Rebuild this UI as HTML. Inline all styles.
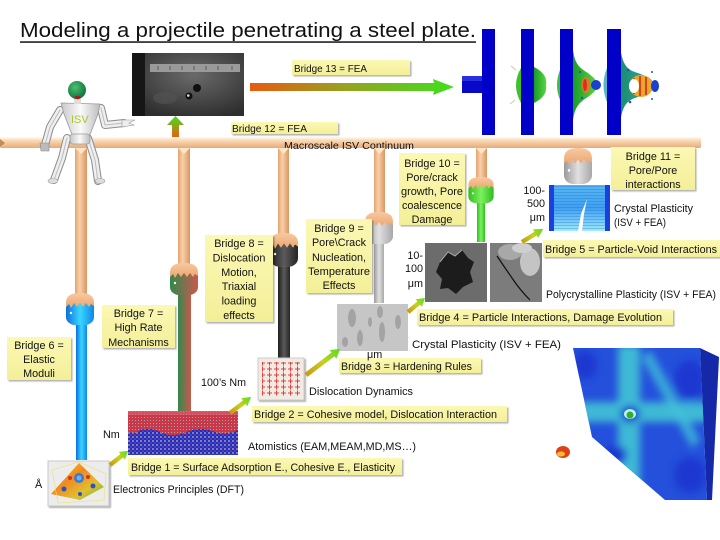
<!DOCTYPE html>
<html><head><meta charset="utf-8"><style>
html,body{margin:0;padding:0;background:#fff;}
svg{display:block;}
text{font-family:"Liberation Sans",sans-serif;fill:#111;}
</style></head><body>
<svg width="720" height="540" viewBox="0 0 720 540" xmlns="http://www.w3.org/2000/svg">
<defs>
 <filter id="sh" x="-10%" y="-20%" width="130%" height="160%"><feDropShadow dx="1.5" dy="1.5" stdDeviation="0.8" flood-color="#000" flood-opacity="0.3"/></filter>
 <filter id="bl2"><feGaussianBlur stdDeviation="4"/></filter>
 <linearGradient id="beam" x1="0" y1="0" x2="0" y2="1"><stop offset="0" stop-color="#fff2e0"/><stop offset="0.35" stop-color="#f9d7b2"/><stop offset="1" stop-color="#e6aa78"/></linearGradient>
 <linearGradient id="post" x1="0" y1="0" x2="1" y2="0"><stop offset="0" stop-color="#e2a470"/><stop offset="0.4" stop-color="#f8d0a8"/><stop offset="1" stop-color="#d99662"/></linearGradient>
 <linearGradient id="peach" x1="0" y1="0" x2="0" y2="1"><stop offset="0" stop-color="#f7c9a0"/><stop offset="0.4" stop-color="#eeaa75"/><stop offset="1" stop-color="#e39558"/></linearGradient>
 <linearGradient id="cBlue" x1="0" y1="0" x2="1" y2="0"><stop offset="0" stop-color="#0a6fe0"/><stop offset="0.5" stop-color="#3ad6ff"/><stop offset="1" stop-color="#0f86e8"/></linearGradient>
 <linearGradient id="cRG" x1="0" y1="0" x2="1" y2="0"><stop offset="0" stop-color="#2f8a48"/><stop offset="0.5" stop-color="#7f7050"/><stop offset="1" stop-color="#c95a4a"/></linearGradient>
 <linearGradient id="cDark" x1="0" y1="0" x2="1" y2="0"><stop offset="0" stop-color="#1e1e1e"/><stop offset="0.5" stop-color="#5a5a5a"/><stop offset="1" stop-color="#262626"/></linearGradient>
 <linearGradient id="cGray" x1="0" y1="0" x2="1" y2="0"><stop offset="0" stop-color="#9a9a9a"/><stop offset="0.5" stop-color="#e0e0e0"/><stop offset="1" stop-color="#a8a8a8"/></linearGradient>
 <linearGradient id="cGreen" x1="0" y1="0" x2="1" y2="0"><stop offset="0" stop-color="#2cbf1e"/><stop offset="0.5" stop-color="#7ef060"/><stop offset="1" stop-color="#2cbf1e"/></linearGradient>
 <linearGradient id="arrH" x1="250" y1="0" x2="454" y2="0" gradientUnits="userSpaceOnUse"><stop offset="0" stop-color="#e85a10"/><stop offset="0.45" stop-color="#98a020"/><stop offset="1" stop-color="#3ee01c"/></linearGradient>
 <linearGradient id="arrU" x1="0" y1="0" x2="0" y2="1"><stop offset="0" stop-color="#40e020"/><stop offset="1" stop-color="#e86010"/></linearGradient>
 <linearGradient id="arrD" x1="0" y1="0" x2="1" y2="0"><stop offset="0" stop-color="#c89a10"/><stop offset="0.5" stop-color="#c8d020"/><stop offset="1" stop-color="#50e020"/></linearGradient>
 <linearGradient id="yb" x1="0" y1="0" x2="0" y2="1"><stop offset="0" stop-color="#fbf8b4"/><stop offset="1" stop-color="#f3ef98"/></linearGradient>
 <radialGradient id="photo" cx="0.55" cy="0.35" r="0.7"><stop offset="0" stop-color="#6a6a6a"/><stop offset="1" stop-color="#2e2e2e"/></radialGradient>
 <radialGradient id="head" cx="0.4" cy="0.35" r="0.7"><stop offset="0" stop-color="#4ac070"/><stop offset="1" stop-color="#0c6e3a"/></radialGradient>
 <linearGradient id="silver" x1="0" y1="0" x2="1" y2="0"><stop offset="0" stop-color="#c8c8c8"/><stop offset="0.5" stop-color="#fafafa"/><stop offset="1" stop-color="#bdbdbd"/></linearGradient>
 <linearGradient id="feaG" x1="0" y1="0" x2="1" y2="0"><stop offset="0" stop-color="#1a9a28"/><stop offset="1" stop-color="#58d840"/></linearGradient>
 <linearGradient id="feaT" x1="0" y1="0" x2="1" y2="0"><stop offset="0" stop-color="#1c8a70"/><stop offset="1" stop-color="#30b0a0"/></linearGradient>
 <linearGradient id="dft" x1="0" y1="0" x2="1" y2="1"><stop offset="0" stop-color="#f0d020"/><stop offset="0.4" stop-color="#f08a20"/><stop offset="0.7" stop-color="#e0c030"/><stop offset="1" stop-color="#50b840"/></linearGradient>
 <linearGradient id="cryst" x1="0" y1="0" x2="0" y2="1"><stop offset="0" stop-color="#58b8f0"/><stop offset="0.5" stop-color="#40a0f0"/><stop offset="1" stop-color="#a0ecfa"/></linearGradient>
 <pattern id="grid" width="3" height="3" patternUnits="userSpaceOnUse"><rect width="3" height="3" fill="#c83848"/><rect width="1" height="1" fill="#b0a0a8"/></pattern>
 <pattern id="dots" width="4" height="4" patternUnits="userSpaceOnUse"><rect width="4" height="4" fill="#2a2ab8"/><circle cx="1" cy="1" r="1" fill="#9a9ab8"/><circle cx="3" cy="3" r="0.8" fill="#6060c8"/></pattern>
 <pattern id="dd" width="7" height="6" patternUnits="userSpaceOnUse"><path d="M1,3 L6,3 M3.5,0.5 L3.5,5.5" stroke="#e04040" stroke-width="1"/></pattern>
 <pattern id="lines" width="4" height="3" patternUnits="userSpaceOnUse"><rect width="4" height="1" fill="#2070e0" opacity="0.35"/></pattern>
 <clipPath id="plateClip"><polygon points="573,348 700,348 707,500 665,500 592,437"/></clipPath>
</defs>

<!-- Title -->
<text x="20" y="37" font-size="20" textLength="456" lengthAdjust="spacingAndGlyphs">Modeling a projectile penetrating a steel plate.</text>
<rect x="20" y="41.3" width="456" height="1.5" fill="#111"/>

<!-- Photo -->
<rect x="132" y="53" width="112" height="63" fill="url(#photo)"/>
<rect x="132" y="53" width="13" height="63" fill="#161616"/>
<rect x="150" y="64" width="90" height="8" fill="#9a9a9a"/>
<g stroke="#444" stroke-width="0.7">
<line x1="158" y1="66" x2="158" y2="70"/><line x1="170" y1="66" x2="170" y2="70"/><line x1="182" y1="66" x2="182" y2="70"/><line x1="194" y1="66" x2="194" y2="70"/><line x1="206" y1="66" x2="206" y2="70"/><line x1="218" y1="66" x2="218" y2="70"/><line x1="232" y1="66" x2="232" y2="70"/>
</g>
<ellipse cx="165" cy="98" rx="12" ry="6" fill="#555" opacity="0.6"/>
<circle cx="197" cy="88" r="4" fill="#101010"/>
<circle cx="189" cy="96" r="3.5" fill="#101010"/><circle cx="188.3" cy="95.5" r="1.3" fill="#ddd"/>

<!-- Horizontal arrow -->
<polygon points="250,83 434,83 433,79 454,87 433,95 434,91 250,91" fill="url(#arrH)"/>
<!-- Up arrow -->
<polygon points="175.5,116 184,125 179,125 179,137 172,137 172,125 167,125" fill="url(#arrU)"/>

<!-- Bridge 13 / 12 -->
<rect x="292" y="60" width="118" height="15" fill="url(#yb)" filter="url(#sh)"/>
<text x="294" y="72" font-size="10.5" textLength="73" lengthAdjust="spacingAndGlyphs">Bridge 13 = FEA</text>
<rect x="231" y="122" width="107" height="12" fill="url(#yb)" filter="url(#sh)"/>
<text x="232" y="132" font-size="10.5" textLength="75" lengthAdjust="spacingAndGlyphs">Bridge 12 = FEA</text>

<!-- FEA plates -->
<rect x="462" y="76" width="20" height="17" fill="#0808c8"/>
<rect x="462" y="76" width="20" height="5" fill="#2a30e0"/>
<rect x="482" y="29" width="13" height="106" fill="#0000c8"/>
<path d="M521,68 Q511,85 521,103 Z" fill="#40c030"/>
<path d="M516,70 L511,66 M515,100 L510,104" stroke="#d8c890" stroke-width="1"/>
<path d="M534,67 Q548,74 546,85 Q548,96 534,103 Z" fill="url(#feaG)"/>
<rect x="521" y="29" width="13" height="106" fill="#0000c8"/>
<path d="M560,70 Q554,85 560,100 Z" fill="#40c030"/>
<path d="M573,50 C575,65 580,68 588,73 L594,78 Q600,85 594,92 L588,97 C580,102 575,106 573,120 Z" fill="url(#feaG)"/>
<ellipse cx="586" cy="85" rx="4.5" ry="8" fill="#e07828"/>
<ellipse cx="585" cy="85" rx="2" ry="6" fill="#d83020"/>
<circle cx="596" cy="85" r="5" fill="#1a40d0"/>
<circle cx="580" cy="72" r="1.2" fill="#2050e0"/><circle cx="582" cy="98" r="1.2" fill="#2050e0"/>
<rect x="560" y="29" width="13" height="106" fill="#0000c8"/>
<path d="M607,68 Q600,85 607,102 Z" fill="#30a0c0" opacity="0.8"/>
<path d="M620,45 C622,65 627,70 638,73 L648,77 Q660,85 648,94 L638,97 C627,100 622,105 620,125 Z" fill="url(#feaT)"/>
<ellipse cx="641" cy="86" rx="12" ry="11" fill="#e8a828"/>
<path d="M634,78 L634,94 M640,76 L640,96 M646,77 L646,95" stroke="#d84020" stroke-width="2"/>
<ellipse cx="634" cy="86" rx="5" ry="7" fill="#fff"/>
<ellipse cx="655" cy="86" rx="4" ry="6" fill="#1a40d0"/>
<circle cx="628" cy="70" r="1.3" fill="#2050e0"/><circle cx="630" cy="102" r="1.3" fill="#2050e0"/><circle cx="652" cy="72" r="1" fill="#2050e0"/><circle cx="652" cy="99" r="1" fill="#2050e0"/>
<rect x="607" y="29" width="14" height="106" fill="#0000c8"/>

<!-- Beam -->
<rect x="0" y="137" width="701" height="11" rx="1.5" fill="url(#beam)"/>
<rect x="0" y="137" width="701" height="1.5" fill="#fff4e6"/>
<polygon points="0,139 5,143 0,147" fill="#c48a58"/>
<text x="284" y="149" font-size="10.5" textLength="130" lengthAdjust="spacingAndGlyphs">Macroscale ISV Continuum</text>

<!-- Posts -->
<rect x="75" y="148" width="12" height="147" fill="url(#post)"/>
<rect x="178" y="148" width="12" height="117" fill="url(#post)"/>
<rect x="278" y="148" width="11" height="87" fill="url(#post)"/>
<rect x="374" y="148" width="11" height="66" fill="url(#post)"/>
<rect x="476" y="148" width="11" height="31" fill="url(#post)"/>
<g fill="#fde6c8">
<polygon points="75,148 87,148 81,154"/><polygon points="178,148 190,148 184,154"/><polygon points="278,148 289,148 283.5,154"/><polygon points="374,148 385,148 379.5,154"/><polygon points="476,148 487,148 481.5,154"/>
</g>

<!-- Colored columns -->
<rect x="76" y="320" width="11" height="140" fill="url(#cBlue)"/>
<rect x="178" y="288" width="13" height="124" fill="url(#cRG)"/>
<rect x="278" y="262" width="12" height="96" fill="url(#cDark)"/>
<rect x="374" y="240" width="10" height="63" fill="url(#cGray)"/>
<rect x="477" y="200" width="8" height="42" fill="url(#cGreen)"/>

<!-- Hands -->
<g transform="translate(80,293)">
 <path d="M-14,10 C-14,2 -8,0 0,0 C8,0 14,2 14,10 L14,24 C14,29 9,32 5,32 L-5,32 C-9,32 -14,29 -14,24 Z" fill="url(#peach)"/>
 <path d="M-14,14 L-11,11 L-9,15 L-6,10 L-3,14 L0,10 L3,14 L6,10 L9,14 L11,11 L14,13 L14,24 C14,29 9,32 5,32 L-5,32 C-9,32 -14,29 -14,24 Z" fill="url(#cBlue)"/>
 <circle cx="-9" cy="20" r="1.2" fill="#fff"/>
</g>
<g transform="translate(184,263)">
 <path d="M-14,10 C-14,2 -8,0 0,0 C8,0 14,2 14,10 L14,24 C14,29 9,32 5,32 L-5,32 C-9,32 -14,29 -14,24 Z" fill="url(#peach)"/>
 <path d="M-14,14 L-11,11 L-9,15 L-6,10 L-3,14 L0,10 L3,14 L6,10 L9,14 L11,11 L14,13 L14,24 C14,29 9,32 5,32 L-5,32 C-9,32 -14,29 -14,24 Z" fill="url(#cRG)"/>
 <circle cx="-9" cy="20" r="1.2" fill="#fff"/>
</g>
<g transform="translate(284,233) scale(1,1.05)">
 <path d="M-14,10 C-14,2 -8,0 0,0 C8,0 14,2 14,10 L14,24 C14,29 9,32 5,32 L-5,32 C-9,32 -14,29 -14,24 Z" fill="url(#peach)"/>
 <path d="M-14,14 L-11,11 L-9,15 L-6,10 L-3,14 L0,10 L3,14 L6,10 L9,14 L11,11 L14,13 L14,24 C14,29 9,32 5,32 L-5,32 C-9,32 -14,29 -14,24 Z" fill="url(#cDark)"/>
 <circle cx="-9" cy="20" r="1.2" fill="#fff"/>
</g>
<g transform="translate(379,212)">
 <path d="M-14,10 C-14,2 -8,0 0,0 C8,0 14,2 14,10 L14,24 C14,29 9,32 5,32 L-5,32 C-9,32 -14,29 -14,24 Z" fill="url(#peach)"/>
 <path d="M-14,14 L-11,11 L-9,15 L-6,10 L-3,14 L0,10 L3,14 L6,10 L9,14 L11,11 L14,13 L14,24 C14,29 9,32 5,32 L-5,32 C-9,32 -14,29 -14,24 Z" fill="url(#cGray)"/>
 <circle cx="-9" cy="20" r="1.2" fill="#fff"/>
</g>
<g transform="translate(481,177) scale(0.9,0.82)">
 <path d="M-14,10 C-14,2 -8,0 0,0 C8,0 14,2 14,10 L14,24 C14,29 9,32 5,32 L-5,32 C-9,32 -14,29 -14,24 Z" fill="url(#peach)"/>
 <path d="M-14,14 L-11,11 L-9,15 L-6,10 L-3,14 L0,10 L3,14 L6,10 L9,14 L11,11 L14,13 L14,24 C14,29 9,32 5,32 L-5,32 C-9,32 -14,29 -14,24 Z" fill="url(#cGreen)"/>
 <circle cx="-9" cy="20" r="1.2" fill="#fff"/>
</g>
<g transform="translate(578,148) scale(1,1.12)">
 <path d="M-14,10 C-14,2 -8,0 0,0 C8,0 14,2 14,10 L14,24 C14,29 9,32 5,32 L-5,32 C-9,32 -14,29 -14,24 Z" fill="url(#peach)"/>
 <path d="M-14,14 L-11,11 L-9,15 L-6,10 L-3,14 L0,10 L3,14 L6,10 L9,14 L11,11 L14,13 L14,24 C14,29 9,32 5,32 L-5,32 C-9,32 -14,29 -14,24 Z" fill="url(#cGray)"/>
 <circle cx="-9" cy="20" r="1.2" fill="#fff"/>
</g>

<!-- Robot -->
<g stroke-linecap="round" stroke-linejoin="round" fill="none">
 <g stroke="#8c8c8c" stroke-width="8">
  <path d="M67,138 L62,158 L54,180"/><path d="M88,138 L95,160 L98,181"/>
  <path d="M60,110 L50,127 L45,145"/><path d="M101,108 L105,125 L124,123"/>
 </g>
 <g stroke="#efefef" stroke-width="6">
  <path d="M67,138 L62,158 L54,180"/><path d="M88,138 L95,160 L98,181"/>
  <path d="M60,110 L50,127 L45,145"/><path d="M101,108 L105,125 L124,123"/>
 </g>
 <g stroke="#bbb" stroke-width="1">
  <path d="M67,138 L62,158 L54,180"/><path d="M88,138 L95,160 L98,181"/>
  <path d="M60,110 L50,127 L45,145"/><path d="M101,108 L105,125 L124,123"/>
 </g>
</g>
<path d="M122,120 L135,120 L129,123 L134,125 L122,127 Z" fill="#eee" stroke="#999" stroke-width="0.6"/>
<path d="M40,143 L49,143 L49,151 L41,151 Z" fill="#bbb" stroke="#888" stroke-width="0.6"/>
<ellipse cx="53" cy="181" rx="5" ry="2.5" fill="#ddd" stroke="#999" stroke-width="0.6"/>
<ellipse cx="100" cy="181" rx="5" ry="2.5" fill="#ddd" stroke="#999" stroke-width="0.6"/>
<path d="M61,103 L100,104 L98,114 L89,137 L73,137 L64,114 Z" fill="url(#silver)" stroke="#9a9a9a" stroke-width="0.8"/>
<rect x="70" y="134" width="20" height="10" rx="3" fill="url(#silver)" stroke="#9a9a9a" stroke-width="0.8"/>
<rect x="74" y="98" width="7" height="6" fill="#ddd"/>
<circle cx="77" cy="90" r="9" fill="url(#head)"/>
<ellipse cx="77.5" cy="97.5" rx="3" ry="1.8" fill="#b01818"/>
<text x="71" y="123" font-size="11" style="fill:#a8c830">ISV</text>

<!-- Bridge labels multi-line -->
<g font-size="10.8" text-anchor="middle">
 <rect x="7" y="337" width="64" height="43" fill="url(#yb)" filter="url(#sh)"/>
 <text x="39" y="349">Bridge 6 =</text><text x="39" y="363">Elastic</text><text x="39" y="377">Moduli</text>

 <rect x="102" y="305" width="73" height="43" fill="url(#yb)" filter="url(#sh)"/>
 <text x="138.5" y="317">Bridge 7 =</text><text x="138.5" y="331">High Rate</text><text x="138.5" y="346">Mechanisms</text>

 <rect x="205" y="235" width="68" height="87" fill="url(#yb)" filter="url(#sh)"/>
 <text x="239" y="247">Bridge 8 =</text><text x="239" y="261.5">Dislocation</text><text x="239" y="276">Motion,</text><text x="239" y="290">Triaxial</text><text x="239" y="304.5">loading</text><text x="239" y="319">effects</text>

 <rect x="306" y="219" width="66" height="74" fill="url(#yb)" filter="url(#sh)"/>
 <text x="339" y="232">Bridge 9 =</text><text x="339" y="246">Pore\Crack</text><text x="339" y="261">Nucleation,</text><text x="339" y="275" textLength="62" lengthAdjust="spacingAndGlyphs">Temperature</text><text x="339" y="289">Effects</text>

 <rect x="399" y="153" width="66" height="72" fill="url(#yb)" filter="url(#sh)"/>
 <text x="432" y="167">Bridge 10 =</text><text x="432" y="181">Pore/crack</text><text x="432" y="195" textLength="62" lengthAdjust="spacingAndGlyphs">growth, Pore</text><text x="432" y="209">coalescence</text><text x="432" y="223">Damage</text>

 <rect x="611" y="147" width="84" height="43" fill="url(#yb)" filter="url(#sh)"/>
 <text x="653" y="160">Bridge 11 =</text><text x="653" y="174">Pore/Pore</text><text x="653" y="188">interactions</text>
</g>

<!-- Images -->
<!-- DFT -->
<rect x="48" y="461" width="61" height="45" fill="#ececec" stroke="#c8c8c8" stroke-width="1" filter="url(#sh)"/>
<polygon points="51,494 79,463 104,487 80,500" fill="url(#dft)"/>
<circle cx="79" cy="478" r="5" fill="#3a7ad0"/><circle cx="79" cy="478" r="2.5" fill="#70b0e8"/>
<circle cx="64" cy="489" r="2.5" fill="#3050c0"/><circle cx="93" cy="486" r="2.5" fill="#3050c0"/><circle cx="80" cy="494" r="2" fill="#3050c0"/>
<circle cx="70" cy="478" r="2" fill="#d83020"/><circle cx="88" cy="477" r="2" fill="#d83020"/>
<path d="M52,470 L79,462 L106,474 L104,500 L58,503 Z" fill="none" stroke="#e8e070" stroke-width="0.6"/>

<!-- Atomistics -->
<rect x="128" y="411" width="110" height="44" fill="url(#dots)"/>
<path d="M128,411 L238,411 L238,430 Q225,436 212,431 Q198,426 185,433 Q170,438 158,431 Q145,426 135,433 L128,432 Z" fill="url(#grid)"/>
<rect x="128" y="411" width="110" height="4" fill="#e06070" opacity="0.6"/>

<!-- Dislocation dynamics -->
<rect x="258" y="358" width="46" height="42" fill="#f2ebe4" stroke="#ccc" stroke-width="1" filter="url(#sh)"/>
<rect x="262" y="362" width="38" height="34" fill="url(#dd)"/>

<!-- Crystal gray -->
<rect x="337" y="304" width="71" height="47" fill="#c6c6c6"/>
<g fill="#7a7a7a" opacity="0.45">
<ellipse cx="352" cy="318" rx="4" ry="9"/><ellipse cx="360" cy="338" rx="3" ry="8"/><ellipse cx="380" cy="312" rx="3" ry="6"/><ellipse cx="382" cy="332" rx="3" ry="10"/><ellipse cx="398" cy="322" rx="3" ry="7"/><ellipse cx="345" cy="342" rx="3" ry="5"/><ellipse cx="370" cy="322" rx="2" ry="5"/>
</g>

<!-- SEM 1 -->
<rect x="425" y="243" width="62" height="59" fill="#6c6c6c"/>
<path d="M440,262 L448,252 L455,256 L462,250 L468,258 L474,262 L470,272 L473,282 L463,287 L456,294 L448,288 L440,289 L442,279 L436,272 Z" fill="#1c1c1c"/>
<path d="M440,262 L448,252 L455,256 L462,250" fill="none" stroke="#aaa" stroke-width="1"/>
<!-- SEM 2 -->
<rect x="490" y="243" width="52" height="59" fill="#7c7c7c"/>
<ellipse cx="510" cy="252" rx="12" ry="8" fill="#a8a8a8"/>
<ellipse cx="530" cy="262" rx="10" ry="14" fill="#c4c4c4"/>
<ellipse cx="522" cy="248" rx="10" ry="5" fill="#cfcfcf"/>
<path d="M497,256 Q505,268 512,278 Q520,290 530,300" fill="none" stroke="#111" stroke-width="1.2"/>

<!-- Blue crystal -->
<rect x="549" y="185" width="61" height="46" fill="url(#cryst)"/>
<rect x="549" y="185" width="61" height="46" fill="url(#lines)"/>
<rect x="549" y="185" width="5" height="46" fill="#1a40e0"/>
<rect x="605" y="185" width="5" height="46" fill="#1a40e0"/>
<path d="M587,199 L581,214 L578,231 L582,231 L584,214 Z" fill="#fff"/>

<!-- 3D plate -->
<polygon points="700,348 719,357 712,500 707,500" fill="#1428a8"/>
<g clip-path="url(#plateClip)">
 <rect x="560" y="340" width="160" height="170" fill="#2450dc"/>
 <g filter="url(#bl2)">
  <rect x="618" y="345" width="22" height="160" fill="#40c4d4" opacity="0.9"/>
  <rect x="570" y="402" width="140" height="20" fill="#40c4d4" opacity="0.9"/>
  <polygon points="650,350 700,440 692,448 642,358" fill="#40c0d8" opacity="0.8"/>
  <ellipse cx="585" cy="365" rx="12" ry="14" fill="#1a38d0"/>
  <ellipse cx="690" cy="380" rx="16" ry="20" fill="#1a38d0"/>
  <ellipse cx="690" cy="475" rx="16" ry="18" fill="#1a38d0"/>
  <ellipse cx="615" cy="455" rx="12" ry="10" fill="#1a38d0"/>
  <ellipse cx="630" cy="414" rx="10" ry="9" fill="#1a40d0"/>
 </g>
 <ellipse cx="630" cy="414" rx="6" ry="5" fill="#c0f0f0"/>
 <ellipse cx="630" cy="415" rx="3.5" ry="3.5" fill="#30b030"/>
</g>
<ellipse cx="563" cy="452" rx="7" ry="6" fill="#e04018"/>
<ellipse cx="561" cy="454" rx="4" ry="2.5" fill="#f0c030"/>

<!-- Diagonal arrows -->
<g fill="url(#arrD)">
 <g transform="translate(110,465) rotate(-37.9)"><polygon points="0,-2.2 15,-2.2 15,-5 23,0 15,5 15,2.2 0,2.2"/></g>
 <g transform="translate(230,413) rotate(-37.3)"><polygon points="0,-2.2 18,-2.2 18,-5 26.5,0 18,5 18,2.2 0,2.2"/></g>
 <g transform="translate(306,375) rotate(-37.4)"><polygon points="0,-2.4 34,-2.4 34,-5.5 43,0 34,5.5 34,2.4 0,2.4"/></g>
 <g transform="translate(408,312) rotate(-39.5)"><polygon points="0,-2.2 14,-2.2 14,-5 22,0 14,5 14,2.2 0,2.2"/></g>
 <g transform="translate(522,242) rotate(-31.8)"><polygon points="0,-2.2 16,-2.2 16,-5 25,0 16,5 16,2.2 0,2.2"/></g>
</g>

<!-- Single-line bridges -->
<g font-size="10.8">
 <rect x="128" y="458" width="274" height="17" fill="url(#yb)" filter="url(#sh)"/>
 <text x="131" y="471" textLength="264" lengthAdjust="spacingAndGlyphs">Bridge 1 = Surface Adsorption E., Cohesive E., Elasticity</text>
 <rect x="252" y="406" width="255" height="16" fill="url(#yb)" filter="url(#sh)"/>
 <text x="254" y="418" textLength="243" lengthAdjust="spacingAndGlyphs">Bridge 2 = Cohesive model, Dislocation Interaction</text>
 <rect x="339" y="358" width="142" height="15" fill="url(#yb)" filter="url(#sh)"/>
 <text x="341" y="370" textLength="131" lengthAdjust="spacingAndGlyphs">Bridge 3 = Hardening Rules</text>
 <rect x="417" y="309" width="256" height="16" fill="url(#yb)" filter="url(#sh)"/>
 <text x="419" y="321" textLength="243" lengthAdjust="spacingAndGlyphs">Bridge 4 = Particle Interactions, Damage Evolution</text>
 <rect x="543" y="240" width="177" height="17" fill="url(#yb)" filter="url(#sh)"/>
 <text x="545" y="253" textLength="172" lengthAdjust="spacingAndGlyphs">Bridge 5 = Particle-Void Interactions</text>
</g>

<!-- Plain labels -->
<g font-size="10.8">
 <text x="113" y="493" textLength="131" lengthAdjust="spacingAndGlyphs">Electronics Principles (DFT)</text>
 <text x="35" y="488">Å</text>
 <text x="103" y="438">Nm</text>
 <text x="201" y="386" textLength="45" lengthAdjust="spacingAndGlyphs">100’s Nm</text>
 <text x="248" y="450" textLength="168" lengthAdjust="spacingAndGlyphs">Atomistics (EAM,MEAM,MD,MS…)</text>
 <text x="309" y="395" textLength="104" lengthAdjust="spacingAndGlyphs">Dislocation Dynamics</text>
 <text x="412" y="348" textLength="149" lengthAdjust="spacingAndGlyphs">Crystal Plasticity (ISV + FEA)</text>
 <text x="367" y="358">μm</text>
 <text x="546" y="298" textLength="170" lengthAdjust="spacingAndGlyphs">Polycrystalline Plasticity (ISV + FEA)</text>
 <text x="614" y="212" textLength="79" lengthAdjust="spacingAndGlyphs">Crystal Plasticity</text>
 <text x="614" y="226" textLength="52" lengthAdjust="spacingAndGlyphs">(ISV + FEA)</text>
 <g text-anchor="end">
  <text x="423" y="259">10-</text><text x="423" y="272">100</text><text x="423" y="287">μm</text>
  <text x="545" y="194">100-</text><text x="545" y="207">500</text><text x="545" y="221">μm</text>
 </g>
</g>
</svg>
</body></html>
